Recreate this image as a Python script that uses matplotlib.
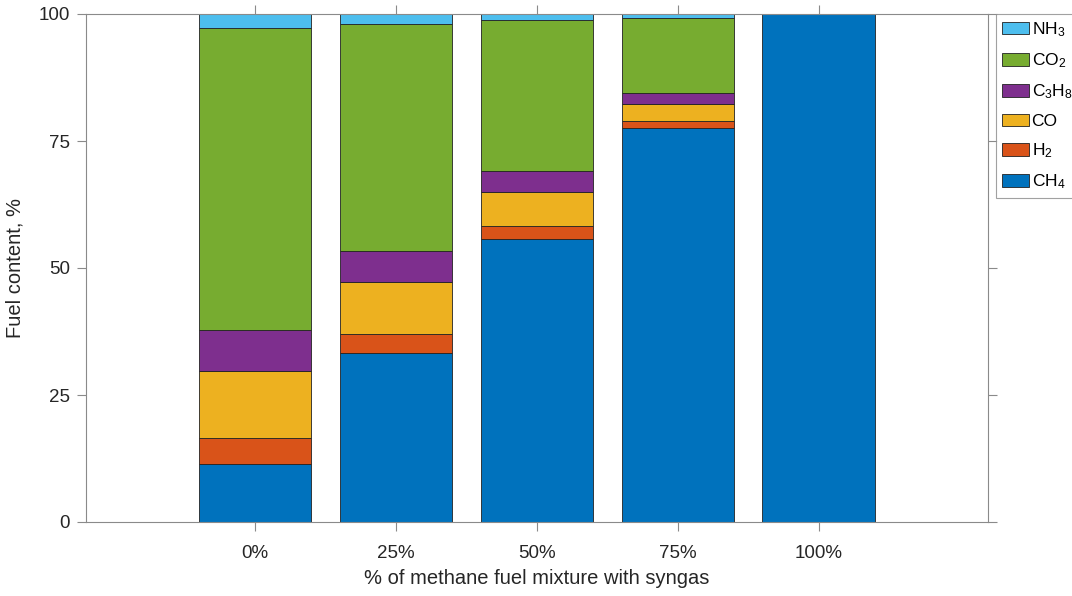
import matplotlib
matplotlib.use("Agg")
import matplotlib.pyplot as plt
import numpy as np

plt.rcParams["font.family"] = ["Liberation Sans", "DejaVu Sans"]
plt.rcParams["mathtext.default"] = "regular"

categories = ["0%", "25%", "50%", "75%", "100%"]
ch4 = [11.4, 33.3, 55.7, 77.6, 100.0]
h2 = [5.1, 3.8, 2.6, 1.3, 0.0]
co = [13.2, 10.1, 6.7, 3.4, 0.0]
c3h8 = [8.1, 6.1, 4.0, 2.1, 0.0]
co2 = [59.5, 44.7, 29.8, 14.9, 0.0]
nh3 = [2.7, 2.0, 1.2, 0.7, 0.0]

series = [
    ("CH$_4$", ch4, "#0072BD"),
    ("H$_2$", h2, "#D95319"),
    ("CO", co, "#EDB120"),
    ("C$_3$H$_8$", c3h8, "#7E2F8E"),
    ("CO$_2$", co2, "#77AC30"),
    ("NH$_3$", nh3, "#4DBEEE"),
]

fig = plt.figure(figsize=(10.72, 5.96), dpi=100)
ax = fig.add_axes([86 / 1072, 1 - 522 / 596, (988 - 86) / 1072, (522 - 14) / 596])

x = np.arange(len(categories))
bottom = np.zeros(len(categories))
handles = []
for label, vals, color in series:
    h = ax.bar(x, vals, width=0.8, bottom=bottom, color=color,
               edgecolor="#222222", linewidth=0.6, label=label)
    handles.append(h)
    bottom += np.asarray(vals)

ax.set_xlim(-1.2, 5.2)
ax.set_ylim(0, 100)
ax.set_xticks(x, categories)
ax.set_yticks([0, 25, 50, 75, 100])

axis_gray = "#8a8a8a"
for s in ax.spines.values():
    s.set_color(axis_gray)
    s.set_linewidth(0.8)
ax.tick_params(direction="out", length=6.5, width=0.8, color=axis_gray,
               labelcolor="#262626", labelsize=13.5, top=True, right=True, pad=5)
ax.tick_params(axis="x", pad=10)

ax.set_xlabel("% of methane fuel mixture with syngas", fontsize=14.5, color="#262626", labelpad=5)
ax.set_ylabel("Fuel content, %", fontsize=14.5, color="#262626", labelpad=10)

leg = fig.legend(handles[::-1], [s[0] for s in series][::-1],
                 loc="upper left", bbox_to_anchor=(996 / 1072, 1 - 14 / 596),
                 borderaxespad=0, fontsize=12.5, frameon=True, fancybox=False,
                 handlelength=1.55, handleheight=0.75, handletextpad=0.15,
                 labelspacing=0.72, borderpad=0.35)
leg.get_frame().set_edgecolor(axis_gray)
leg.get_frame().set_linewidth(0.8)

fig.savefig("out.png", dpi=100)
